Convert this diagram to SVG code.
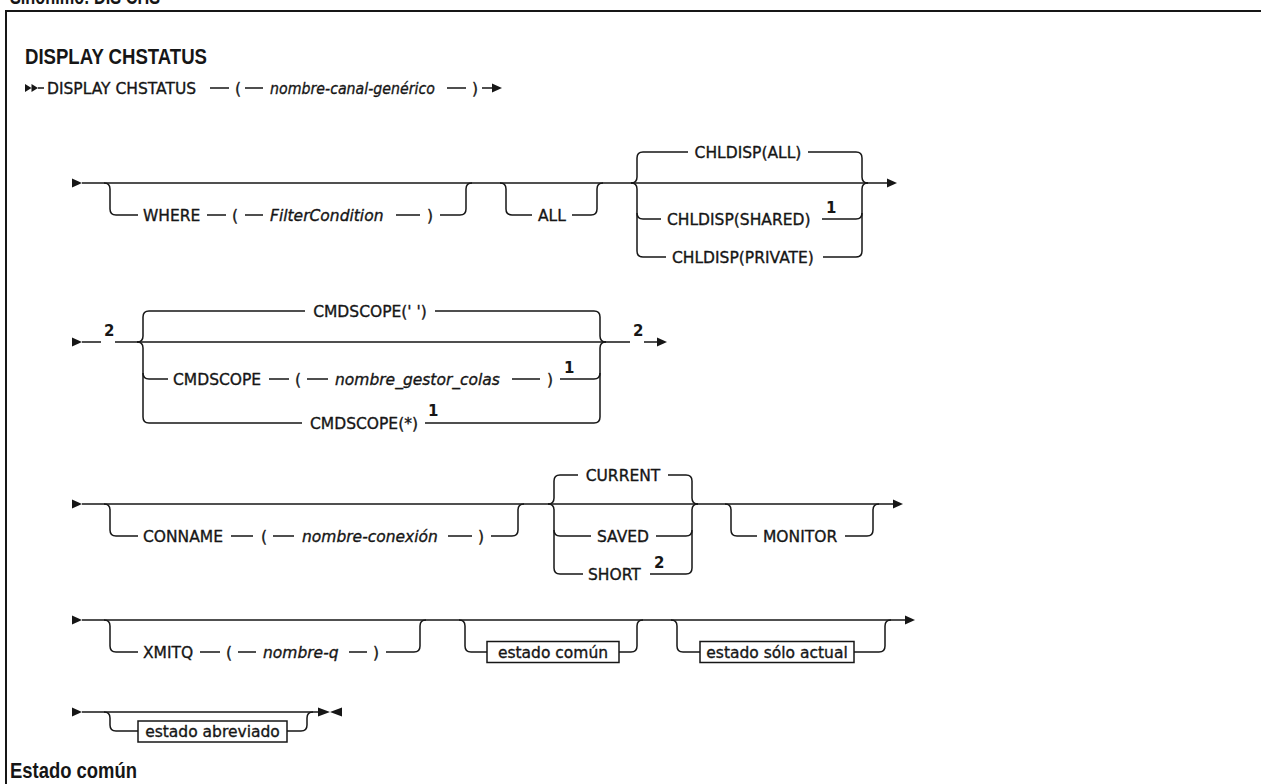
<svg xmlns="http://www.w3.org/2000/svg" width="1261" height="784" viewBox="0 0 1261 784">
<style>
.r{fill:none;stroke:#161616;stroke-width:1.5}
.fr{fill:none;stroke:#161616;stroke-width:2}
.a{fill:#161616;stroke:none}
text{font-family:"DejaVu Sans","Liberation Sans",sans-serif;fill:#161616}
.k,.v,.m{font-size:15.5px;stroke:#161616;stroke-width:0.35;stroke-linejoin:round}
.v{font-style:italic}
.m{text-anchor:middle}
.f{font-size:15px;font-weight:bold}
.h{font-family:"Liberation Sans",Arial,sans-serif;font-size:22px;font-weight:bold}
.bx{fill:#fff;stroke:#161616;stroke-width:1.5}
</style>
<rect width="1261" height="784" fill="#fff"/>
<text class="h" x="10" y="4" textLength="150" lengthAdjust="spacingAndGlyphs">Sinónimo: DIS CHS</text>
<path class="fr" d="M6,790 V11 H1270"/>
<text class="h" x="25" y="64" textLength="182" lengthAdjust="spacingAndGlyphs">DISPLAY CHSTATUS</text>

<g id="connectors">
  <!-- row 1 -->
  <path class="a" d="M25,84 L31.5,88 L25,92 Z M31.5,84 L38,88 L31.5,92 Z"/>
  <path class="r" d="M38,88 H44 M210,88 H229 M245,88 H263 M447,88 H466 M482,88 H493"/>
  <path class="a" d="M492,83.5 L502,88 L492,92.5 Z"/>
  <!-- row 2 -->
  <path class="a" d="M72,178.5 L82,183 L72,187.5 Z"/>
  <path class="r" d="M82,183 H888"/>
  <path class="a" d="M887,178.5 L897,183 L887,187.5 Z"/>
  <path class="r" d="M104,183 Q110,183 110,189 V209 Q110,215 116,215 H138 M207,215 H226 M245,215 H263 M396,215 H420 M440,215 H460 Q466,215 466,209 V189 Q466,183 472,183"/>
  <path class="r" d="M500,183 Q506,183 506,189 V209 Q506,215 512,215 H532 M572,215 H591 Q597,215 597,209 V189 Q597,183 603,183"/>
  <path class="r" d="M631,183 Q637,183 637,177 V158 Q637,152 643,152 H688 M808,152 H856 Q862,152 862,158 V177 Q862,183 868,183"/>
  <path class="r" d="M631,183 Q637,183 637,189 V251 Q637,257 643,257 H666 M823,257 H856 Q862,257 862,251 V189 Q862,183 868,183"/>
  <path class="r" d="M637,213 Q637,219 643,219 H661 M822,219 H856 Q862,219 862,213"/>
  <!-- row 3 -->
  <path class="a" d="M72,337.5 L82,342 L72,346.5 Z"/>
  <path class="r" d="M82,342 H101 M115,342 H630 M644,342 H658"/>
  <path class="a" d="M657,337.5 L667,342 L657,346.5 Z"/>
  <path class="r" d="M137,342 Q143,342 143,336 V317 Q143,311 149,311 H305 M435,311 H594 Q600,311 600,317 V336 Q600,342 606,342"/>
  <path class="r" d="M137,342 Q143,342 143,348 V417 Q143,423 149,423 H302 M425,423 H594 Q600,423 600,417 V348 Q600,342 606,342"/>
  <path class="r" d="M143,373 Q143,379 149,379 H168 M269,379 H289 M307,379 H328 M512,379 H540 M560,379 H594 Q600,379 600,373"/>
  <!-- row 4 -->
  <path class="a" d="M72,499.5 L82,504 L72,508.5 Z"/>
  <path class="r" d="M82,504 H894"/>
  <path class="a" d="M893,499.5 L903,504 L893,508.5 Z"/>
  <path class="r" d="M104,504 Q110,504 110,510 V530 Q110,536 116,536 H138 M231,536 H253 M273,536 H294 M448,536 H472 M491,536 H512 Q518,536 518,530 V510 Q518,504 524,504"/>
  <path class="r" d="M548,504 Q554,504 554,498 V481 Q554,475 560,475 H578 M668,475 H686 Q692,475 692,481 V498 Q692,504 698,504"/>
  <path class="r" d="M548,504 Q554,504 554,510 V568 Q554,574 560,574 H583 M650,574 H686 Q692,574 692,568 V510 Q692,504 698,504"/>
  <path class="r" d="M554,530 Q554,536 560,536 H591 M656,536 H686 Q692,536 692,530"/>
  <path class="r" d="M725,504 Q731,504 731,510 V530 Q731,536 737,536 H757 M845,536 H867 Q873,536 873,530 V510 Q873,504 879,504"/>
  <!-- row 5 -->
  <path class="a" d="M72,615.5 L82,620 L72,624.5 Z"/>
  <path class="r" d="M82,620 H906"/>
  <path class="a" d="M905,615.5 L915,620 L905,624.5 Z"/>
  <path class="r" d="M104,620 Q110,620 110,626 V646 Q110,652 116,652 H138 M200,652 H220 M238,652 H256 M349,652 H367 M386,652 H414 Q420,652 420,646 V626 Q420,620 426,620"/>
  <path class="r" d="M459,620 Q465,620 465,626 V646 Q465,652 471,652 H487 M619,652 H631 Q637,652 637,646 V626 Q637,620 643,620"/>
  <path class="r" d="M671,620 Q677,620 677,626 V646 Q677,652 683,652 H700 M854,652 H879 Q885,652 885,646 V626 Q885,620 891,620"/>
  <!-- row 6 -->
  <path class="a" d="M72,707.5 L82,712 L72,716.5 Z"/>
  <path class="r" d="M82,712 H319"/>
  <path class="a" d="M318,707.5 L330,712 L318,716.5 Z M342,707.5 L330,712 L342,716.5 Z"/>
  <path class="r" d="M104,712 Q110,712 110,718 V725 Q110,731 116,731 H138 M287,731 H301 Q307,731 307,725 V718 Q307,712 313,712"/>
</g>

<!-- row 1 -->
<g id="n-display"><text class="k" x="47" y="93.5">DISPLAY CHSTATUS</text></g>
<g id="n-lp1"><text class="k" x="235" y="93.5">(</text></g>
<g id="n-canal"><text class="v" x="270" y="93.5" textLength="165" lengthAdjust="spacingAndGlyphs">nombre-canal-genérico</text></g>
<g id="n-rp1"><text class="k" x="472" y="93.5">)</text></g>

<!-- row 2 -->
<g id="n-where"><text class="k" x="143" y="220.5">WHERE</text></g>
<g id="n-lp2"><text class="k" x="232" y="220.5">(</text></g>
<g id="n-filter"><text class="v" x="270" y="220.5">FilterCondition</text></g>
<g id="n-rp2"><text class="k" x="427" y="220.5">)</text></g>
<g id="n-all"><text class="k" x="538" y="220.5">ALL</text></g>
<g id="n-chlall"><text class="m" x="748" y="157.5">CHLDISP(ALL)</text></g>
<g id="n-chlshared"><text class="k" x="667" y="224.5">CHLDISP(SHARED)</text><text class="f" x="826" y="213">1</text></g>
<g id="n-chlprivate"><text class="k" x="672" y="262.5">CHLDISP(PRIVATE)</text></g>

<!-- row 3 -->
<g id="n-fn2a"><text class="f" x="104" y="336">2</text></g>
<g id="n-cmdblank"><text class="m" x="370" y="316.5">CMDSCOPE(' ')</text></g>
<g id="n-cmdscope"><text class="k" x="173" y="384.5">CMDSCOPE</text></g>
<g id="n-lp3"><text class="k" x="295" y="384.5">(</text></g>
<g id="n-gestor"><text class="v" x="335" y="384.5">nombre_gestor_colas</text></g>
<g id="n-rp3"><text class="k" x="547" y="384.5">)</text><text class="f" x="564" y="373">1</text></g>
<g id="n-cmdstar"><text class="k" x="310" y="428.5">CMDSCOPE(*)</text><text class="f" x="428" y="416">1</text></g>
<g id="n-fn2b"><text class="f" x="633" y="336">2</text></g>

<!-- row 4 -->
<g id="n-conname"><text class="k" x="143" y="541.5">CONNAME</text></g>
<g id="n-lp4"><text class="k" x="261" y="541.5">(</text></g>
<g id="n-conexion"><text class="v" x="302" y="541.5">nombre-conexión</text></g>
<g id="n-rp4"><text class="k" x="478" y="541.5">)</text></g>
<g id="n-current"><text class="m" x="623" y="480.5">CURRENT</text></g>
<g id="n-saved"><text class="m" x="623" y="541.5">SAVED</text></g>
<g id="n-short"><text class="k" x="588" y="579.5">SHORT</text><text class="f" x="654" y="568">2</text></g>
<g id="n-monitor"><text class="k" x="763" y="541.5">MONITOR</text></g>

<!-- row 5 -->
<g id="n-xmitq"><text class="k" x="143" y="657.5">XMITQ</text></g>
<g id="n-lp5"><text class="k" x="226" y="657.5">(</text></g>
<g id="n-nombreq"><text class="v" x="263" y="657.5">nombre-q</text></g>
<g id="n-rp5"><text class="k" x="373" y="657.5">)</text></g>
<g id="n-comun"><rect class="bx" x="487" y="641.5" width="132" height="21"/><text class="m" x="553" y="657.5">estado común</text></g>
<g id="n-actual"><rect class="bx" x="700" y="641.5" width="154" height="21"/><text class="m" x="777" y="657.5">estado sólo actual</text></g>

<!-- row 6 -->
<g id="n-abreviado"><rect class="bx" x="138" y="721" width="149" height="21"/><text class="m" x="212.5" y="737">estado abreviado</text></g>

<text class="h" x="10" y="778" textLength="127" lengthAdjust="spacingAndGlyphs">Estado común</text>
</svg>
